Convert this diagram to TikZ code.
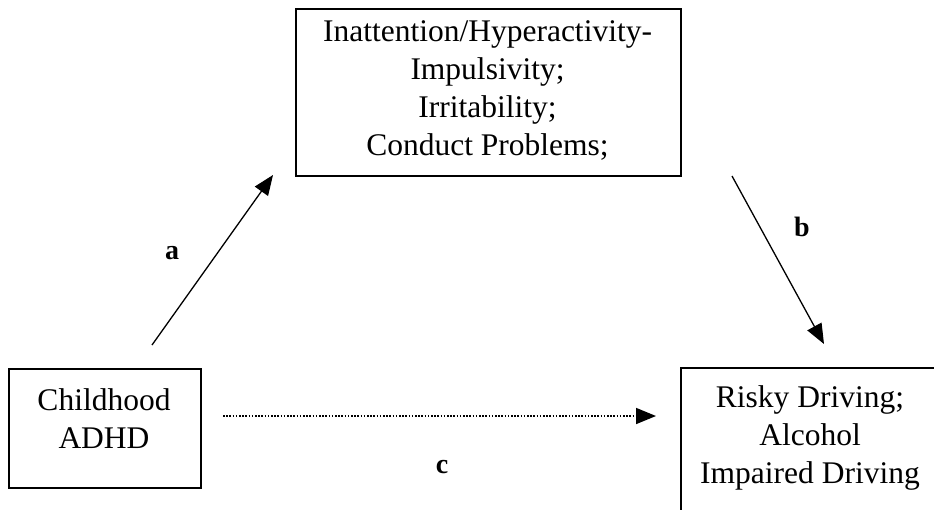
\documentclass[tikz,border=0pt]{standalone}
\usepackage{fontspec}
\setmainfont{Liberation Serif}
\usetikzlibrary{arrows.meta}
\tikzset{
  boxshape/.style={draw, line width=1.6pt, rectangle, inner sep=0pt},
  boxtext/.style={align=center, inner sep=0pt, font=\fontsize{31.5}{38}\selectfont},
  pathlab/.style={inner sep=0pt, font=\fontsize{28}{30}\selectfont\bfseries},
  solidarrow/.style={line width=1.3pt, -{Triangle[length=20pt,width=16pt]}},
  dottedarrow/.style={line width=1.6pt, dash pattern=on 1.6pt off 1.6pt, -{Triangle[length=20pt,width=16pt]}}
}
\begin{document}
\begin{tikzpicture}[x=1pt,y=-1pt]
\clip (0,0) rectangle (934,509);
\useasboundingbox (0,0) rectangle (934,509);
% boxes
\node[boxshape, minimum width=385pt, minimum height=167pt, anchor=north west] (med) at (295,8) {};
\node[boxtext] (medtxt) at (487.5,90) {Inattention/Hyperactivity-\\Impulsivity;\\Irritability;\\Conduct Problems;};
\node[boxshape, minimum width=192pt, minimum height=119pt, anchor=north west] (adhd) at (8,368) {};
\node[boxtext] (adhdtxt) at (104,419) {Childhood\\ADHD};
\node[boxshape, minimum width=262pt, minimum height=170pt, anchor=north west] (risk) at (680,367) {};
\node[boxtext] (risktxt) at (810,438) {Risky Driving;\\Alcohol\\Impaired Driving};
% arrow endpoints
\coordinate (aS) at (152,345);
\coordinate (aE) at (273,175);
\coordinate (bS) at (732,176);
\coordinate (bE) at (824,344);
\coordinate (cS) at (223,416);
\coordinate (cE) at (656,416);
\draw[solidarrow] (aS) -- (aE);
\draw[solidarrow] (bS) -- (bE);
\draw[dottedarrow] (cS) -- (cE);
% labels
\node[pathlab] (la) at (172,253) {a};
\node[pathlab] (lb) at (802,227) {b};
\node[pathlab] (lc) at (442,467) {c};
\end{tikzpicture}
\end{document}
